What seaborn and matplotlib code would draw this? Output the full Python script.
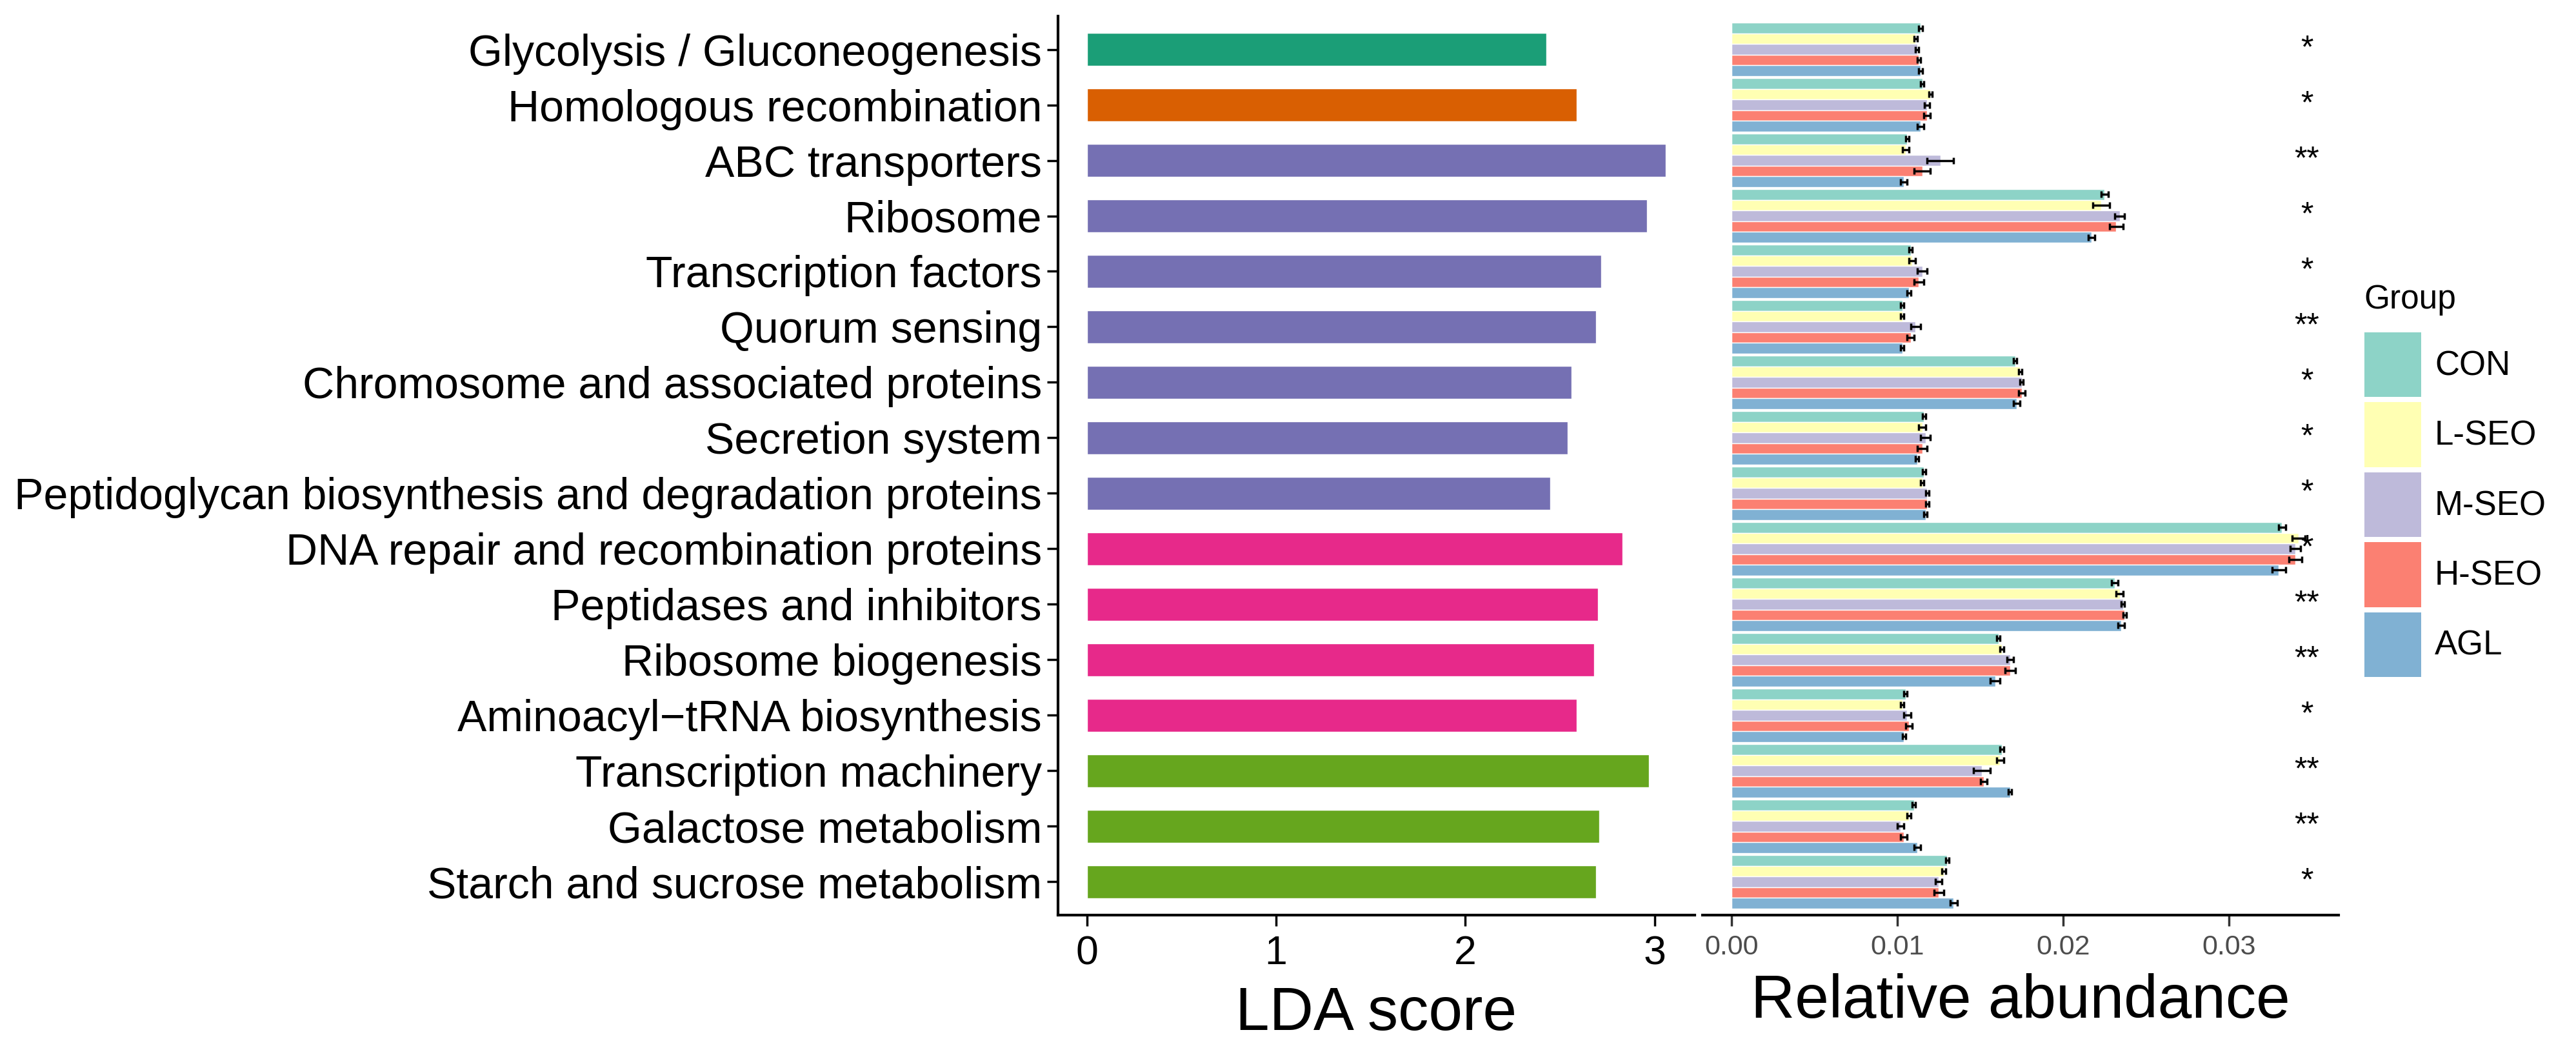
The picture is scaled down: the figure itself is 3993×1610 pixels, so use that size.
import numpy as np
import pandas as pd
import matplotlib
matplotlib.use('Agg')
import matplotlib.pyplot as plt
from matplotlib.patches import Patch
import seaborn as sns

# pathways (top to bottom) and their LDA score
pathways = ['Glycolysis / Gluconeogenesis', 'Homologous recombination', 'ABC transporters',
            'Ribosome', 'Transcription factors', 'Quorum sensing',
            'Chromosome and associated proteins', 'Secretion system',
            'Peptidoglycan biosynthesis and degradation proteins',
            'DNA repair and recombination proteins', 'Peptidases and inhibitors',
            'Ribosome biogenesis', 'Aminoacyl\u2212tRNA biosynthesis', 'Transcription machinery',
            'Galactose metabolism', 'Starch and sucrose metabolism']
lda_score = [2.43, 2.59, 3.06, 2.96, 2.72, 2.69, 2.56, 2.54, 2.45,
             2.83, 2.70, 2.68, 2.59, 2.97, 2.71, 2.69]
bar_colors = ['#1B9E77', '#D95F02'] + ['#7570B3'] * 7 + ['#E7298A'] * 4 + ['#66A61E'] * 3
signif = ['*', '*', '**', '*', '*', '**', '*', '*', '*', '*', '**', '**', '*', '**', '**', '*']

# relative abundance per group
groups = ['CON', 'L-SEO', 'M-SEO', 'H-SEO', 'AGL']
set3 = ['#8DD3C7', '#FFFFB3', '#BEBADA', '#FB8072', '#80B1D3']
con = [0.0114, 0.0115, 0.0106, 0.0225, 0.0108, 0.0103, 0.0171, 0.0116, 0.0116,
       0.0332, 0.0231, 0.0161, 0.0105, 0.0163, 0.0110, 0.0130]
lseo = [0.0111, 0.0120, 0.0105, 0.0223, 0.0109, 0.0103, 0.0174, 0.0115, 0.0115,
        0.0342, 0.0234, 0.0163, 0.0103, 0.0162, 0.0107, 0.0128]
mseo = [0.0112, 0.0118, 0.0126, 0.0234, 0.0115, 0.0111, 0.0175, 0.0117, 0.0118,
        0.0340, 0.0236, 0.0168, 0.0106, 0.0151, 0.0102, 0.0125]
hseo = [0.0113, 0.0118, 0.0115, 0.0232, 0.0113, 0.0108, 0.0175, 0.0115, 0.0118,
        0.0340, 0.0237, 0.0168, 0.0107, 0.0152, 0.0104, 0.0125]
agl = [0.0114, 0.0114, 0.0104, 0.0217, 0.0107, 0.0103, 0.0172, 0.0112, 0.0117,
       0.0330, 0.0235, 0.0159, 0.0104, 0.0168, 0.0112, 0.0134]
# standard errors
err_con = [0.0001, 0.0001, 0.0001, 0.0002, 0.0001, 0.0001, 0.0001, 0.0001, 0.0001,
           0.0002, 0.0002, 0.0001, 0.0001, 0.0001, 0.0001, 0.0001]
err_lseo = [0.0001, 0.0001, 0.0002, 0.0005, 0.0002, 0.0001, 0.0001, 0.0002, 0.0001,
            0.0004, 0.0002, 0.0001, 0.0001, 0.0002, 0.0001, 0.0001]
err_mseo = [0.0001, 0.00015, 0.0008, 0.0003, 0.0003, 0.0003, 0.0001, 0.0003, 0.0001,
            0.0003, 0.0001, 0.0002, 0.0002, 0.0005, 0.0002, 0.0002]
err_hseo = [0.0001, 0.0002, 0.0005, 0.0004, 0.0003, 0.0002, 0.0002, 0.0003, 0.0001,
            0.0004, 0.0001, 0.0003, 0.0002, 0.0002, 0.0002, 0.0003]
err_agl = [0.0001, 0.0002, 0.0002, 0.0002, 0.0001, 0.0001, 0.0002, 0.0001, 0.0001,
           0.0004, 0.0002, 0.0003, 0.0001, 0.0001, 0.0002, 0.0002]

values = [con, lseo, mseo, hseo, agl]
errors = [err_con, err_lseo, err_mseo, err_hseo, err_agl]

df_lda = pd.DataFrame({'pathway': pathways, 'lda': lda_score})
df_ab = pd.DataFrame({
    'pathway': pathways * len(groups),
    'group': np.repeat(groups, len(pathways)),
    'abundance': np.concatenate(values),
})

sns.set_style("ticks")
plt.rcParams['font.family'] = ['Liberation Sans', 'DejaVu Sans']
plt.rcParams['text.color'] = 'black'
plt.rcParams['axes.labelcolor'] = 'black'

fig = plt.figure(figsize=(39.93, 16.10), dpi=100)
ax1 = fig.add_axes([0.4107, 0.1193, 0.2472, 0.8652])
ax2 = fig.add_axes([0.6609, 0.1193, 0.2469, 0.8652])

# left: LDA score
sns.barplot(data=df_lda, x='lda', y='pathway', hue='pathway', order=pathways,
            palette=bar_colors, width=0.6, saturation=1, legend=False,
            orient='h', ax=ax1)
ax1.set_xlim(-0.153, 3.213)
ax1.set_ylim(15.6, -0.6)
ax1.set_xticks([0, 1, 2, 3])
ax1.set_xlabel('LDA score', fontsize=68, labelpad=14, color='black')
ax1.set_ylabel('')
ax1.tick_params(axis='y', labelsize=49, length=12, width=2.5, pad=6, colors='black')
ax1.tick_params(axis='x', labelsize=45, length=12, width=2.5, pad=10, colors='black')
for s in ['top', 'right']:
    ax1.spines[s].set_visible(False)
for s in ['left', 'bottom']:
    ax1.spines[s].set_linewidth(3)
    ax1.spines[s].set_color('black')

# right: relative abundance with error bars
sns.barplot(data=df_ab, x='abundance', y='pathway', hue='group', order=pathways,
            hue_order=groups, palette=set3, width=0.96, saturation=1,
            errorbar=None, legend=False, orient='h', ax=ax2)
for cont, err in zip(ax2.containers, errors):
    xs = [b.get_width() for b in cont]
    ys = [b.get_y() + b.get_height() / 2 for b in cont]
    ax2.errorbar(xs, ys, xerr=err, fmt='none', ecolor='black',
                 elinewidth=2.5, capsize=3.5, capthick=2.5, zorder=5)
for i, s in enumerate(signif):
    ax2.text(0.0347, i, s, ha='center', va='center', fontsize=36, color='black')
ax2.set_xlim(-0.00175, 0.0366)
ax2.set_ylim(15.6, -0.6)
ax2.set_xticks([0.00, 0.01, 0.02, 0.03])
ax2.set_xticklabels(['0.00', '0.01', '0.02', '0.03'])
ax2.set_xlabel('Relative abundance', fontsize=68, labelpad=14, color='black')
ax2.set_ylabel('')
ax2.set_yticks([])
ax2.tick_params(axis='x', labelsize=31, length=12, width=2.5, pad=10, colors='#4D4D4D')
ax2.tick_params(axis='x', color='#333333')
for s in ['top', 'right', 'left']:
    ax2.spines[s].set_visible(False)
ax2.spines['bottom'].set_linewidth(3)
ax2.spines['bottom'].set_color('black')

handles = [Patch(facecolor=c, edgecolor='none', label=g) for c, g in zip(set3, groups)]
leg = fig.legend(handles=handles, title='Group', loc='upper left',
                 bbox_to_anchor=(0.9178, 0.727), frameon=False, fontsize=38,
                 title_fontsize=37, handlelength=1.67, handleheight=2.55,
                 labelspacing=0.152, handletextpad=0.4, borderpad=0,
                 borderaxespad=0, alignment='left')
# a bit more room between title and keys
leg._legend_box.sep = 19

plt.savefig('out.png', dpi=100)
